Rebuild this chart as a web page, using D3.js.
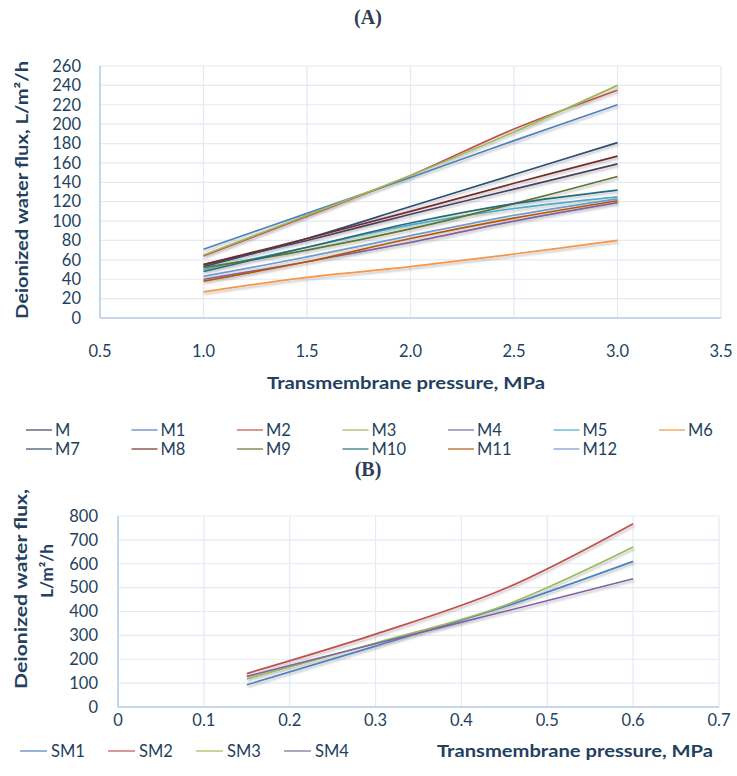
<!DOCTYPE html>
<html>
<head>
<meta charset="utf-8">
<script src="https://cdn.jsdelivr.net/npm/d3@7"></script>
<style>
  body { margin: 0; background: #fff; }
  svg { display: block; }
</style>
</head>
<body>
<div id="chart"></div>
<script>
// Panel A data
const pressA = [1.0, 1.5, 2.0, 2.5, 3.0];
const namesA = ['M', 'M1', 'M2', 'M3', 'M4', 'M5', 'M6', 'M7', 'M8', 'M9', 'M10', 'M11', 'M12'];
const colorsA = ['#4e3f63', '#4f81bd', '#c0504d', '#9bbb59', '#8064a2', '#4bacc6', '#f79646',
                 '#2c4d75', '#772c2a', '#5f7530', '#276a7c', '#b65708', '#729aca'];
const fluxM   = [55, 80, 107, 133, 159];
const fluxM1  = [71, 108, 145, 183, 220];
const fluxM2  = [64, 105, 147, 195, 235];
const fluxM3  = [65, 106, 147, 192, 240];
const fluxM4  = [40, 58, 78, 100, 119];
const fluxM5  = [50, 73, 96, 113, 125];
const fluxM6  = [27, 42, 53, 66, 80];
const fluxM7  = [53, 82, 115, 148, 181];
const fluxM8  = [55, 82, 110, 139, 167];
const fluxM9  = [52, 70, 92, 118, 146];
const fluxM10 = [48, 73, 98, 118, 132];
const fluxM11 = [38, 58, 82, 103, 121];
const fluxM12 = [43, 63, 85, 106, 123];
const seriesA = [fluxM, fluxM1, fluxM2, fluxM3, fluxM4, fluxM5, fluxM6, fluxM7, fluxM8, fluxM9, fluxM10, fluxM11, fluxM12];
const xTicksA = [0.5, 1.0, 1.5, 2.0, 2.5, 3.0, 3.5];
const yTicksA = d3.range(0, 261, 20);

// Panel B data
const pressB = [0.15, 0.3, 0.45, 0.6];
const namesB = ['SM1', 'SM2', 'SM3', 'SM4'];
const colorsB = ['#4f81bd', '#c0504d', '#9bbb59', '#8064a2'];
const fluxSM1 = [93, 255, 420, 610];
const fluxSM2 = [140, 305, 495, 768];
const fluxSM3 = [118, 268, 425, 670];
const fluxSM4 = [128, 265, 400, 537];
const seriesB = [fluxSM1, fluxSM2, fluxSM3, fluxSM4];
const xTicksB = [0, 0.1, 0.2, 0.3, 0.4, 0.5, 0.6, 0.7];
const yTicksB = d3.range(0, 801, 100);

const W = 737, H = 776;
const textColor = '#243f60';
const gridColor = '#e3eaf4';
const axisColor = '#b9cde5';
const font = 'Lato, "Open Sans", sans-serif';

const svg = d3.select('#chart').append('svg')
    .attr('width', W)
    .attr('height', H);

// soft shadow like the spreadsheet lines
const defs = svg.append('defs');
const filt = defs.append('filter').attr('id', 'shadow')
    .attr('x', '-5%').attr('y', '-5%').attr('width', '110%').attr('height', '120%');
filt.append('feDropShadow')
    .attr('dx', 1).attr('dy', 2).attr('stdDeviation', 1.2)
    .attr('flood-color', '#000').attr('flood-opacity', 0.25);

function panel(opts) {
    const { x, y, xTicks, yTicks, xFmt, press, series, colors } = opts;
    const g = svg.append('g');

    // grid
    g.append('g').selectAll('line.h')
        .data(yTicks)
        .join('line')
        .attr('x1', x.range()[0]).attr('x2', x.range()[1])
        .attr('y1', d => y(d)).attr('y2', d => y(d))
        .attr('stroke', gridColor).attr('stroke-width', 1.2);
    g.append('g').selectAll('line.v')
        .data(xTicks)
        .join('line')
        .attr('x1', d => x(d)).attr('x2', d => x(d))
        .attr('y1', y.range()[0]).attr('y2', y.range()[1])
        .attr('stroke', gridColor).attr('stroke-width', 1.2);

    // axis borders
    g.append('line')
        .attr('x1', x.range()[0]).attr('x2', x.range()[0])
        .attr('y1', y.range()[0]).attr('y2', y.range()[1])
        .attr('stroke', axisColor).attr('stroke-width', 1.5);
    g.append('line')
        .attr('x1', x.range()[0]).attr('x2', x.range()[1])
        .attr('y1', y.range()[0]).attr('y2', y.range()[0])
        .attr('stroke', axisColor).attr('stroke-width', 1.5);

    // tick labels
    g.append('g').selectAll('text')
        .data(yTicks)
        .join('text')
        .attr('x', opts.yLabelX)
        .attr('y', d => y(d))
        .attr('dy', '0.35em')
        .attr('text-anchor', 'end')
        .attr('font-family', font)
        .attr('font-size', 16.5)
        .attr('fill', textColor)
        .text(d => d);
    g.append('g').selectAll('text')
        .data(xTicks)
        .join('text')
        .attr('x', d => x(d))
        .attr('y', opts.xLabelY)
        .attr('dy', '0.35em')
        .attr('text-anchor', 'middle')
        .attr('font-family', font)
        .attr('font-size', 16.5)
        .attr('fill', textColor)
        .text(xFmt);

    // lines
    const line = d3.line()
        .x((d, i) => x(press[i]))
        .y(d => y(d))
        .curve(d3.curveCatmullRom.alpha(0.5));
    g.append('g').attr('filter', 'url(#shadow)')
        .selectAll('path')
        .data(series)
        .join('path')
        .attr('d', line)
        .attr('fill', 'none')
        .attr('stroke', (d, i) => colors[i])
        .attr('stroke-width', 1.7);
    return g;
}

// ---------- Panel A ----------
const xA = d3.scaleLinear([0.5, 3.5], [100, 721]);
const yA = d3.scaleLinear([0, 260], [318, 66]);
panel({
    x: xA, y: yA, xTicks: xTicksA, yTicks: yTicksA,
    xFmt: d => d3.format('.1f')(d),
    press: pressA, series: seriesA, colors: colorsA,
    yLabelX: 81, xLabelY: 351
});

svg.append('text')
    .attr('x', 368).attr('y', 24)
    .attr('text-anchor', 'middle')
    .attr('font-family', '"Liberation Serif", serif')
    .attr('font-weight', 'bold')
    .attr('font-size', 20)
    .attr('fill', '#2e3d55')
    .text('(A)');

svg.append('text')
    .attr('transform', 'translate(28,190) rotate(-90)')
    .attr('text-anchor', 'middle')
    .attr('font-family', font)
    .attr('font-weight', 'bold')
    .attr('font-size', 17)
    .attr('fill', textColor)
    .attr('textLength', 258)
    .attr('lengthAdjust', 'spacingAndGlyphs')
    .text('Deionized water flux, L/m²/h');

svg.append('text')
    .attr('x', 406).attr('y', 389)
    .attr('text-anchor', 'middle')
    .attr('font-family', font)
    .attr('font-weight', 'bold')
    .attr('font-size', 17)
    .attr('fill', textColor)
    .attr('textLength', 278)
    .attr('lengthAdjust', 'spacingAndGlyphs')
    .text('Transmembrane pressure, MPa');

// legend A
const legA = svg.append('g').selectAll('g')
    .data(namesA)
    .join('g')
    .attr('transform', (d, i) => `translate(${26 + (i % 7) * 105.5},${430 + Math.floor(i / 7) * 19})`);
legA.append('line')
    .attr('x1', 0).attr('x2', 26)
    .attr('stroke', (d, i) => colorsA[i])
    .attr('stroke-width', 1.6)
    .attr('stroke-opacity', 0.75);
legA.append('text')
    .attr('x', 29).attr('dy', '0.35em')
    .attr('font-family', font)
    .attr('font-size', 16.5)
    .attr('fill', textColor)
    .text(d => d);

// ---------- Panel B ----------
const xB = d3.scaleLinear([0, 0.7], [118, 719]);
const yB = d3.scaleLinear([0, 800], [707, 516]);
panel({
    x: xB, y: yB, xTicks: xTicksB, yTicks: yTicksB,
    xFmt: d => d === 0 ? '0' : d3.format('.1f')(d),
    press: pressB, series: seriesB, colors: colorsB,
    yLabelX: 98, xLabelY: 720
});

svg.append('text')
    .attr('x', 368).attr('y', 476)
    .attr('text-anchor', 'middle')
    .attr('font-family', '"Liberation Serif", serif')
    .attr('font-weight', 'bold')
    .attr('font-size', 20)
    .attr('fill', '#2e3d55')
    .text('(B)');

svg.append('text')
    .attr('transform', 'translate(27,589) rotate(-90)')
    .attr('text-anchor', 'middle')
    .attr('font-family', font)
    .attr('font-weight', 'bold')
    .attr('font-size', 17)
    .attr('fill', textColor)
    .attr('textLength', 200)
    .attr('lengthAdjust', 'spacingAndGlyphs')
    .text('Deionized water flux,');
svg.append('text')
    .attr('transform', 'translate(53,571) rotate(-90)')
    .attr('text-anchor', 'middle')
    .attr('font-family', font)
    .attr('font-weight', 'bold')
    .attr('font-size', 17)
    .attr('fill', textColor)
    .text('L/m²/h');

svg.append('text')
    .attr('x', 575).attr('y', 757)
    .attr('text-anchor', 'middle')
    .attr('font-family', font)
    .attr('font-weight', 'bold')
    .attr('font-size', 17)
    .attr('fill', textColor)
    .attr('textLength', 276)
    .attr('lengthAdjust', 'spacingAndGlyphs')
    .text('Transmembrane pressure, MPa');

// legend B
const legB = svg.append('g').selectAll('g')
    .data(namesB)
    .join('g')
    .attr('transform', (d, i) => `translate(${20 + i * 88},751)`);
legB.append('line')
    .attr('x1', 0).attr('x2', 27)
    .attr('stroke', (d, i) => colorsB[i])
    .attr('stroke-width', 1.6)
    .attr('stroke-opacity', 0.75);
legB.append('text')
    .attr('x', 31).attr('dy', '0.35em')
    .attr('font-family', font)
    .attr('font-size', 16.5)
    .attr('fill', textColor)
    .text(d => d);
</script>
</body>
</html>
